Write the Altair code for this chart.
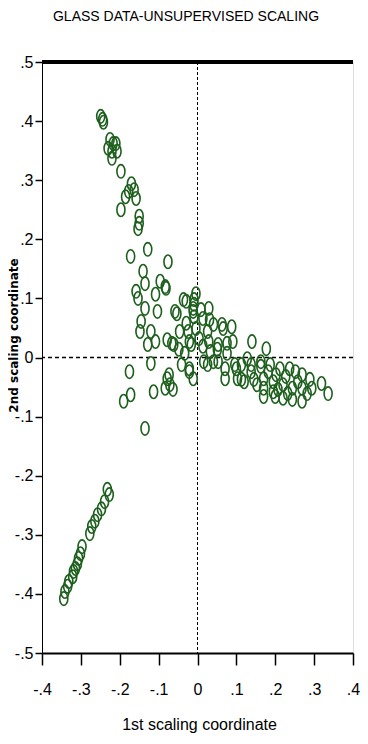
import altair as alt
import pandas as pd

x_vals = [
    -0.249, -0.242, -0.244, -0.225, -0.217, -0.210, -0.230, -0.220, -0.207, -0.220,
    -0.197, -0.170, -0.177, -0.163, -0.158, -0.185, -0.197, -0.150, -0.150, -0.153,
    -0.128, -0.172, -0.076, -0.140, -0.135, -0.096, -0.081, -0.158, -0.153, -0.108,
    -0.103, -0.135, -0.145, -0.148, -0.120, -0.128, -0.108, -0.058, -0.036, -0.029,
    -0.009, -0.078, -0.061, -0.048, -0.024, -0.016, -0.046,
    -0.083, -0.009, -0.053, -0.011, 0.009, 0.029, 0.014, 0.041, 0.066, 0.088,
    -0.029, -0.004, 0.026, -0.066, -0.021, 0.004, 0.029, 0.053, 0.076, 0.091,
    -0.041, -0.021, 0.016, 0.041, 0.071, 0.100, 0.103, -0.078, -0.071,
    0.140, 0.177, 0.113, 0.138, 0.163, 0.187, 0.212, 0.237, 0.252, 0.269,
    0.289, 0.319, 0.336, 0.113, 0.145, 0.170, 0.195, 0.220, 0.244, 0.269,
    0.220, 0.244, 0.269, 0.294, 0.200, 0.202, 0.227,
    -0.011, 0.063, -0.021, -0.011, 0.026, 0.053, 0.071, 0.096, 0.120, 0.138,
    0.153, 0.170, 0.195, 0.163,
    -0.175, -0.120, -0.190, -0.172, -0.113, -0.083, -0.073, -0.063, -0.135,
    -0.232, -0.227, -0.239, -0.247, -0.257, -0.264, -0.272, -0.277, -0.297, -0.301,
    -0.306, -0.309, -0.314, -0.319, -0.321, -0.331, -0.334, -0.341, -0.344,
    0.128, 0.182, 0.258, 0.282, 0.207, 0.232, 0.170, 0.051, 0.076, 0.033,
    0.014, -0.033, -0.004, 0.031, -0.009,
]
y_vals = [
    0.408, 0.398, 0.403, 0.369, 0.362, 0.362, 0.354, 0.349, 0.349, 0.337,
    0.315, 0.294, 0.281, 0.284, 0.269, 0.272, 0.250, 0.239, 0.227, 0.218,
    0.183, 0.171, 0.162, 0.146, 0.125, 0.129, 0.117, 0.112, 0.100, 0.107,
    0.078, 0.083, 0.061, 0.044, 0.044, 0.022, 0.027, 0.078, 0.098, 0.095,
    0.090, 0.030, 0.022, 0.014, 0.044, 0.022, 0.044,
    0.120, 0.098, 0.074, 0.083, 0.081, 0.083, 0.066, 0.056, 0.049, 0.052,
    0.058, 0.049, 0.044, 0.024, 0.027, 0.032, 0.027, 0.022, 0.024, 0.027,
    -0.012, -0.019, -0.007, -0.007, -0.019, -0.019, -0.036, -0.036, -0.046,
    0.027, 0.015, -0.012, -0.012, -0.015, -0.012, -0.019, -0.019, -0.024, -0.029,
    -0.037, -0.044, -0.061, -0.037, -0.037, -0.052, -0.041, -0.046, -0.052, -0.052,
    -0.069, -0.071, -0.074, -0.052, -0.066, -0.029, -0.032,
    0.078, 0.056, -0.024, -0.036, -0.012, -0.007, -0.036, -0.012, -0.041, -0.024,
    -0.046, -0.036, -0.058, -0.007,
    -0.024, -0.010, -0.074, -0.063, -0.058, -0.052, -0.029, -0.054, -0.120,
    -0.223, -0.232, -0.244, -0.256, -0.266, -0.277, -0.286, -0.298, -0.320, -0.332,
    -0.340, -0.349, -0.357, -0.362, -0.371, -0.379, -0.387, -0.396, -0.408,
    -0.002, -0.024, -0.041, -0.061, -0.054, -0.061, -0.066, 0.014, 0.007, 0.010,
    0.019, 0.007, 0.108, 0.064, 0.069,
]
x_ticks = [-0.4, -0.3, -0.2, -0.1, 0.0, 0.1, 0.2, 0.3, 0.4]
y_ticks = [-0.5, -0.4, -0.3, -0.2, -0.1, 0.0, 0.1, 0.2, 0.3, 0.4, 0.5]
title_text = ["GLASS DATA-UNSUPERVISED SCALING"]

df = pd.DataFrame({"x": x_vals, "y": y_vals})

FONT = "Liberation Sans"
label_expr = "datum.value == 0 ? '0' : (datum.value < 0 ? '-' : '') + '.' + format(abs(datum.value) * 10, '.0f')"
ellipse = "M -0.6 0 A 0.6 1 0 1 1 0.6 0 A 0.6 1 0 1 1 -0.6 0 Z"
green = "#1d5f1d"

xscale = alt.Scale(domain=[-0.4, 0.4], nice=False, zero=False)
yscale = alt.Scale(domain=[-0.5, 0.5], nice=False, zero=False)

points = alt.Chart(df).mark_point(
    shape=ellipse, size=180, filled=False, color=green, strokeWidth=1.6, opacity=1
).encode(
    x=alt.X("x:Q", scale=xscale, axis=alt.Axis(
        values=x_ticks, tickCount=20, labelExpr=label_expr, title="1st scaling coordinate",
        grid=False, domainColor="black", domainWidth=2, tickColor="black",
        tickWidth=1.5, tickSize=12, labelPadding=16, labelFlush=False, labelOverlap=False,
        labelFont=FONT, labelFontSize=16, labelColor="black",
        titleFont=FONT, titleFontSize=16, titleFontWeight="normal", titleColor="black",
        titleBaseline="middle", titleY=71, titleX=157,
    )),
    y=alt.Y("y:Q", scale=yscale, axis=alt.Axis(
        values=y_ticks, tickCount=20, labelExpr=label_expr, title="2nd scaling coordinate",
        grid=False, domainColor="black", domainWidth=1, tickColor="black",
        tickWidth=1.5, tickSize=7, labelPadding=2, labelFlush=False, labelOverlap=False,
        labelFont=FONT, labelFontSize=16, labelColor="black",
        titleFont="DejaVu Sans", titleFontSize=12, titleFontWeight="bold", titleColor="black",
        titleAngle=270, titleAlign="center", titleBaseline="middle",
        titleX=-29, titleY=273,
    )),
)

zero_df = pd.DataFrame({"v": [0.0]})
vline = alt.Chart(zero_df).mark_rule(color="black", strokeWidth=1, strokeDash=[3, 2]).encode(
    x=alt.X("v:Q", scale=xscale)
)
hline = alt.Chart(zero_df).mark_rule(color="black", strokeWidth=1.5, strokeDash=[4, 3]).encode(
    y=alt.Y("v:Q", scale=yscale)
)
top_df = pd.DataFrame({"v": [0.5]})
topline = alt.Chart(top_df).mark_rule(color="black", strokeWidth=4).encode(
    y=alt.Y("v:Q", scale=yscale)
)
title_mark = alt.Chart(pd.DataFrame({"t": title_text})).mark_text(
    font=FONT, fontSize=14, color="black", align="center", baseline="alphabetic"
).encode(text="t:N", x=alt.value(144), y=alt.value(-41))

chart = alt.layer(vline, hline, points, topline, title_mark).properties(
    width=311, height=591,
    autosize=alt.AutoSizeParams(type="none"),
    padding={"left": 34, "top": 54, "right": 7, "bottom": 80},
).configure_view(stroke="black", strokeWidth=1).configure(background="white")

chart.save("out.html", embed_options={"renderer": "svg", "actions": False})
